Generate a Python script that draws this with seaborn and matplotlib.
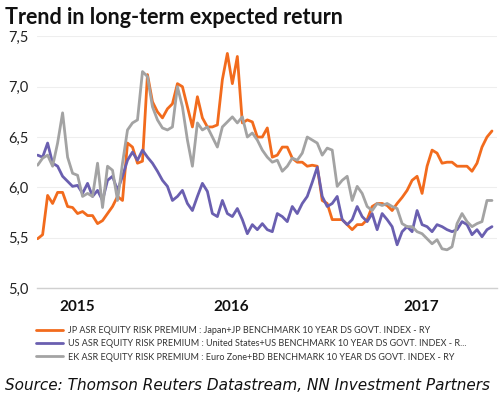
import matplotlib
matplotlib.use('Agg')

import matplotlib.pyplot as plt
import matplotlib.dates as mdates
import matplotlib.transforms as mtransforms
import numpy as np
import pandas as pd
import seaborn as sns

# weekly-ish sampling
start_date = '2015-08-28'
end_date = '2017-08-22'

jp_erp = [
    5.49, 5.53, 5.92, 5.84, 5.95, 5.95, 5.81, 5.80, 5.74, 5.76, 5.72, 5.72, 5.64, 5.67, 5.74,
    5.81, 5.91, 5.87, 6.44, 6.40, 6.24, 6.26, 7.12, 6.85, 6.75, 6.69, 6.78, 6.83, 7.03, 7.00,
    6.80, 6.60, 6.90, 6.69, 6.60, 6.60, 6.62, 7.07, 7.33, 7.03, 7.30, 6.64, 6.67,
    6.65, 6.50, 6.50, 6.59, 6.30, 6.32, 6.40, 6.40, 6.29, 6.25, 6.25, 6.21, 6.22, 6.21, 5.87,
    5.84, 5.68, 5.68, 5.68, 5.63, 5.58, 5.63, 5.63, 5.68, 5.81, 5.84, 5.84, 5.82, 5.77, 5.84,
    5.90, 5.97, 6.07, 6.11, 5.94, 6.21, 6.37, 6.34, 6.24, 6.25, 6.25, 6.21, 6.21, 6.21, 6.16,
    6.24, 6.40, 6.50, 6.56,
]

us_erp = [
    6.32, 6.30, 6.44, 6.24, 6.21, 6.11, 6.06, 6.01, 6.02, 5.94, 6.04, 5.91, 5.97, 5.87, 6.07,
    6.11, 5.97, 6.11, 6.27, 6.35, 6.27, 6.37, 6.30, 6.24, 6.16, 6.07, 6.01, 5.87, 5.91, 5.97,
    5.84, 5.77, 5.91, 6.04, 5.96, 5.74, 5.71, 5.87, 5.74, 5.71, 5.79, 5.68, 5.54,
    5.63, 5.58, 5.64, 5.58, 5.56, 5.74, 5.71, 5.66, 5.81, 5.74, 5.84, 5.91, 6.05, 6.20, 5.91,
    5.81, 5.84, 5.91, 5.68, 5.63, 5.68, 5.81, 5.71, 5.66, 5.74, 5.58, 5.74, 5.68, 5.61, 5.43,
    5.56, 5.61, 5.56, 5.77, 5.63, 5.61, 5.56, 5.63, 5.61, 5.58, 5.56, 5.58, 5.66, 5.63, 5.53,
    5.58, 5.51, 5.58, 5.61,
]

ek_erp = [
    6.22, 6.29, 6.32, 6.21, 6.44, 6.74, 6.30, 6.14, 6.12, 5.91, 5.94, 5.91, 6.24, 5.80, 6.21,
    6.17, 5.87, 6.24, 6.57, 6.64, 6.67, 7.15, 7.10, 6.80, 6.67, 6.59, 6.57, 6.60, 7.00, 6.80,
    6.47, 6.21, 6.64, 6.57, 6.60, 6.50, 6.40, 6.60, 6.65, 6.70, 6.64, 6.70, 6.50,
    6.54, 6.47, 6.37, 6.30, 6.25, 6.27, 6.16, 6.21, 6.29, 6.27, 6.34, 6.50, 6.47, 6.44, 6.32,
    6.39, 6.37, 6.01, 6.07, 6.11, 5.87, 6.01, 5.94, 5.81, 5.77, 5.84, 5.82, 5.84, 5.81, 5.79,
    5.64, 5.61, 5.61, 5.56, 5.54, 5.49, 5.44, 5.48, 5.39, 5.38, 5.41, 5.64, 5.74, 5.66, 5.61,
    5.64, 5.66, 5.87, 5.87,
]

labels = [
    'JP ASR EQUITY RISK PREMIUM : Japan+JP BENCHMARK 10 YEAR DS GOVT. INDEX - RY',
    'US ASR EQUITY RISK PREMIUM : United States+US BENCHMARK 10 YEAR DS GOVT. INDEX - R...',
    'EK ASR EQUITY RISK PREMIUM : Euro Zone+BD BENCHMARK 10 YEAR DS GOVT. INDEX - RY',
]
colors = ['#F26B1D', '#6A5FB0', '#A3A3A3']

y_ticks = [5.0, 5.5, 6.0, 6.5, 7.0, 7.5]

dates = pd.date_range(start_date, end_date, periods=len(jp_erp))
df = pd.concat([
    pd.DataFrame({'date': dates, 'value': vals, 'series': lab})
    for vals, lab in zip([jp_erp, us_erp, ek_erp], labels)
])

sns.set_style('white')
plt.rcParams['font.family'] = ['Lato', 'DejaVu Sans']

fig = plt.figure(figsize=(5.0, 3.99), dpi=100)
ax = fig.add_axes([0.074, 0.278, 0.92, 0.631])

sns.lineplot(data=df, x='date', y='value', hue='series', palette=colors,
             linewidth=2.0, ax=ax, legend=False)

xmin = pd.Timestamp('2015-08-27')
xmax = pd.Timestamp('2017-08-30')
ax.set_xlim(xmin, xmax)
ax.set_ylim(5.0, 7.5)
ax.set_yticks(y_ticks)
ax.set_yticklabels([f'{v:.1f}'.replace('.', ',') for v in y_ticks], fontsize=10.5, color='#222222')
ax.yaxis.grid(True, color='#EEEEEE', linewidth=0.8)
ax.tick_params(axis='y', length=0, pad=6)
ax.set_xlabel('')
ax.set_ylabel('')

for side in ['left', 'right', 'top']:
    ax.spines[side].set_visible(False)
ax.spines['bottom'].set_color('#D0D0D0')
ax.spines['bottom'].set_linewidth(1.0)

# quarterly tick marks, year labels centred on the visible part of each year
ax.xaxis.set_major_locator(mdates.MonthLocator(bymonth=[1, 4, 7, 10]))
ax.xaxis.set_major_formatter(plt.NullFormatter())
ax.tick_params(axis='x', direction='out', length=3, width=1, color='#D0D0D0')
trans = mtransforms.blended_transform_factory(ax.transData, ax.transAxes)
for year in [2015, 2016, 2017]:
    lo = max(xmin, pd.Timestamp(f'{year}-01-01'))
    hi = min(xmax, pd.Timestamp(f'{year + 1}-01-01'))
    mid = lo + (hi - lo) / 2
    ax.text(mdates.date2num(mid), -0.075, str(year), transform=trans,
            ha='center', va='center', fontsize=11, fontweight='bold', color='#111111')

handles = [plt.Line2D([], [], color=c, linewidth=2.0) for c in colors]
fig.legend(handles, labels, loc='center left', bbox_to_anchor=(0.072, 0.138),
           frameon=False, fontsize=6.5, handlelength=3.0, handletextpad=0.55,
           labelspacing=0.45, borderpad=0, borderaxespad=0, labelcolor='#333333')

fig.text(0.01, 0.955, 'Trend in long-term expected return', fontsize=15.5,
         fontweight='bold', ha='left', va='center', color='#111111')
fig.text(0.01, 0.035, 'Source: Thomson Reuters Datastream, NN Investment Partners',
         fontsize=11, fontstyle='italic', ha='left', va='center', color='#111111',
         family=['DejaVu Sans'])

fig.savefig('out.png', dpi=100)
